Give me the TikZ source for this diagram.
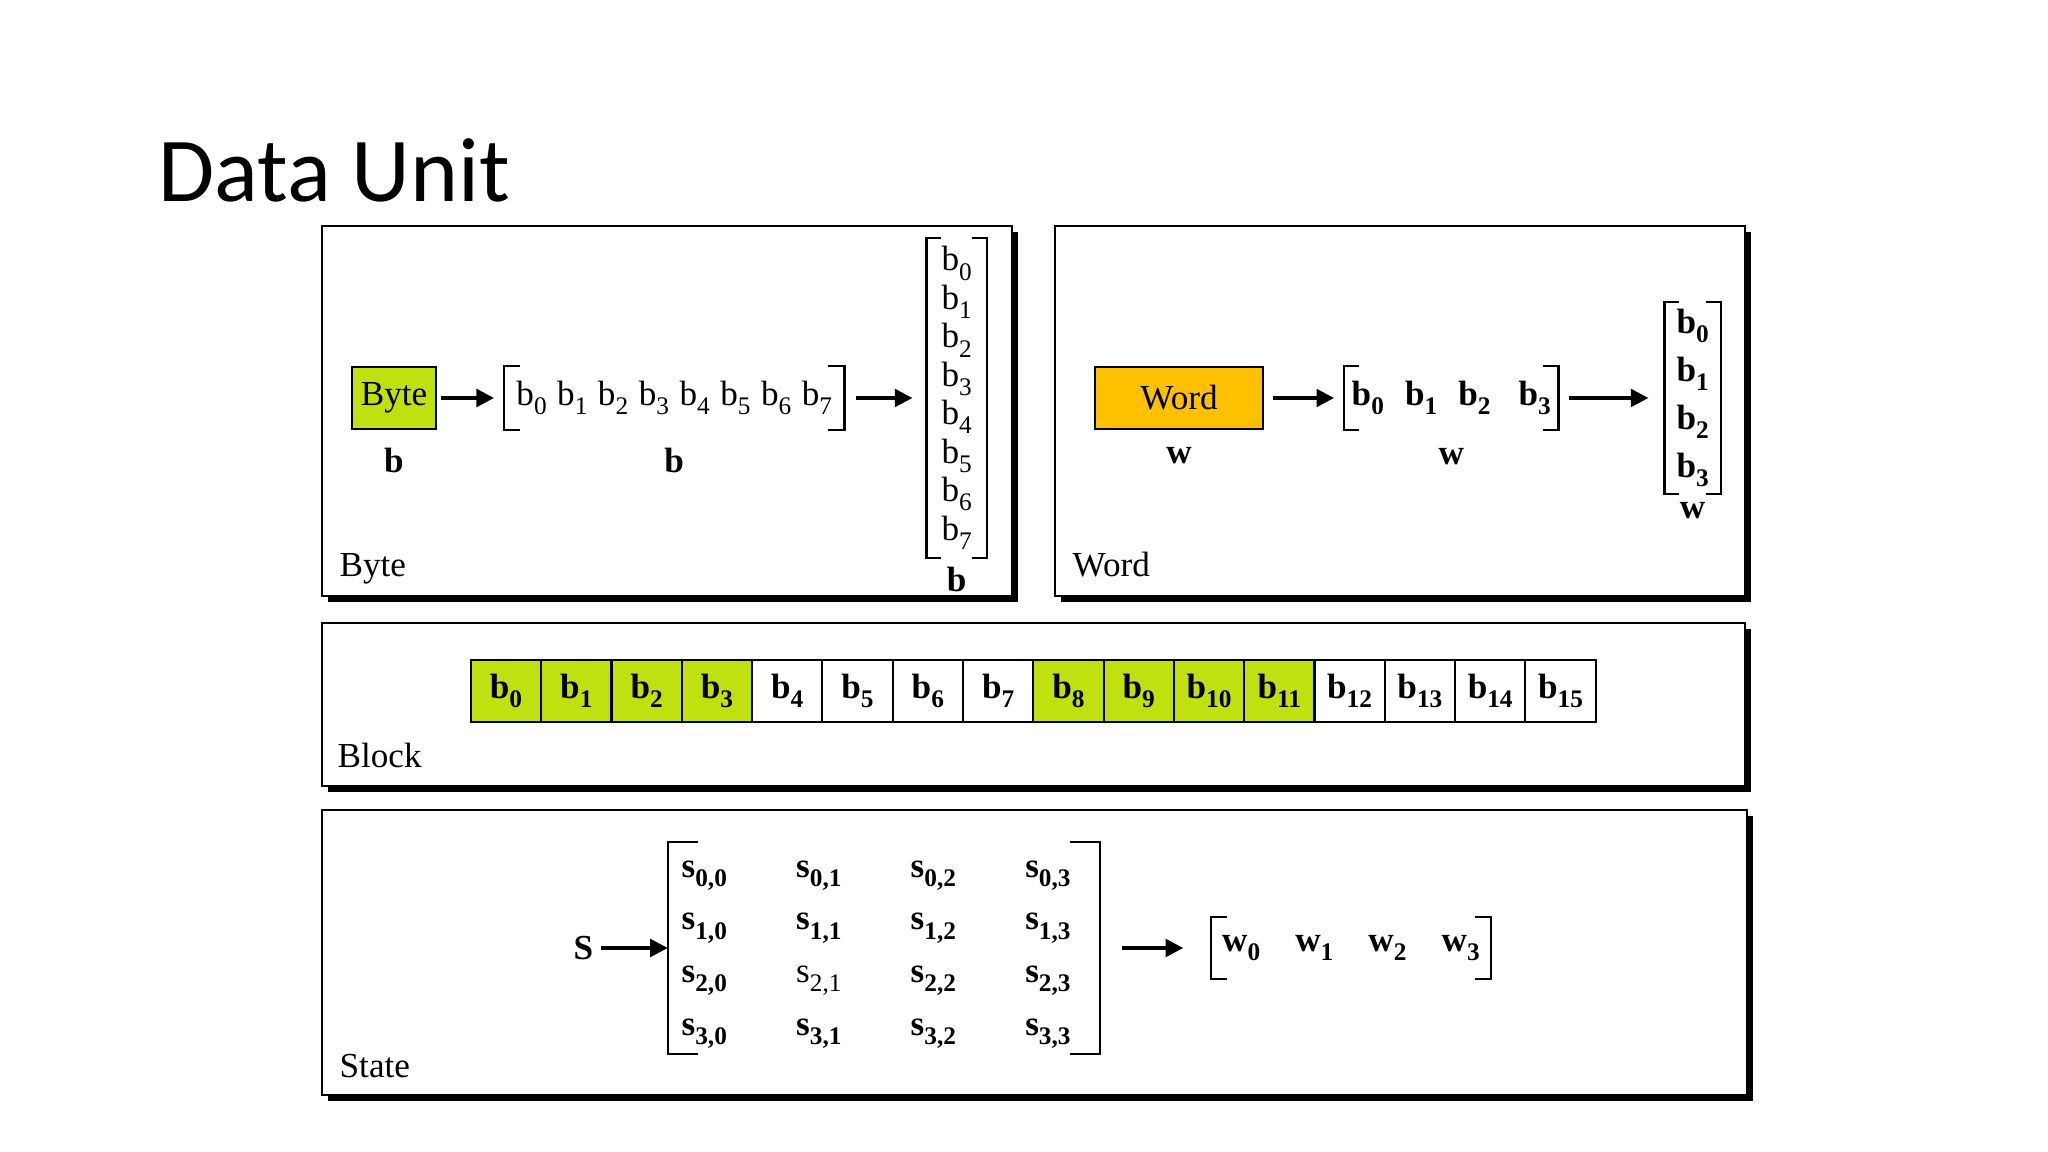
\documentclass[tikz,border=0pt]{standalone}
\usepackage{fontspec}
\setmainfont{Liberation Serif}
\newfontfamily\titlefont{Carlito}
\usetikzlibrary{positioning, arrows.meta, shadows}

\definecolor{bytegreen}{RGB}{192,224,16}
\definecolor{wordorange}{RGB}{255,192,0}

% subscripted letters, bold and regular
\newcommand{\lowsub}[1]{\raisebox{-2.6pt}{\fontsize{7.2}{8}\selectfont #1}}
\newcommand{\bsub}[2]{\textbf{#1\lowsub{#2}}}
\newcommand{\rsub}[2]{#1\lowsub{#2}}

% square brackets round a node: node name, serif length
\newcommand{\brackets}[2]{%
  \draw[brkline] ([xshift=#2]#1.north west) -- (#1.north west) -- (#1.south west) -- ([xshift=#2]#1.south west);
  \draw[brkline] ([xshift=-#2]#1.north east) -- (#1.north east) -- (#1.south east) -- ([xshift=-#2]#1.south east);
}

\begin{document}
\begin{tikzpicture}[
  x=0.1mm, y=-0.1mm,
  panel/.style={draw, fill=white, line width=0.7pt, anchor=north west, inner sep=0,
    drop shadow={shadow xshift=0.6mm, shadow yshift=-0.6mm, fill=black, opacity=1}},
  txt/.style={inner sep=0, font=\fontsize{10}{12}\selectfont},
  boldtxt/.style={inner sep=0, font=\fontsize{10}{12}\selectfont\bfseries},
  unitbox/.style={draw, line width=0.6pt, inner sep=0, minimum height=6.2mm, font=\fontsize{10}{12}\selectfont},
  cell/.style={draw, line width=0.6pt, inner sep=0, outer sep=0, minimum width=7.03mm,
    minimum height=6.2mm, font=\fontsize{10}{12}\selectfont\bfseries},
  paneltitle/.style={anchor=base west, inner sep=0, font=\fontsize{10}{12}\selectfont},
  brkline/.style={line width=0.6pt},
  arr/.style={line width=1pt, -{Triangle[length=5pt, width=5pt]}}
]
\useasboundingbox (0,0) rectangle (2048,1152);

% Title
\node[anchor=base west, inner sep=0, font=\titlefont\fontsize{26}{30}\selectfont] (title) at (158,202) {Data Unit};

% Panels
\node[panel, minimum width=69mm, minimum height=37mm] (bytepanel) at (321,225) {};
\node[panel, minimum width=69mm, minimum height=37mm] (wordpanel) at (1054,225) {};
\node[panel, minimum width=142.3mm, minimum height=16.3mm] (blockpanel) at (321,622) {};
\node[panel, minimum width=142.5mm, minimum height=28.5mm] (statepanel) at (321,809) {};

\node[paneltitle] (bytetitle) at (339,577) {Byte};
\node[paneltitle] (wordtitle) at (1072,577) {Word};
\node[paneltitle] (blocktitle) at (337,768) {Block};
\node[paneltitle] (statetitle) at (339,1077) {State};

% Byte
\node[unitbox, fill=bytegreen, minimum width=8.4mm] (bytebox) at (394,398) {Byte};
\node[txt, minimum width=33.9mm, minimum height=6.3mm, right=6.7mm of bytebox] (byterow)
  {\rsub{b}{0}\hspace{3pt}\rsub{b}{1}\hspace{3pt}\rsub{b}{2}\hspace{3pt}\rsub{b}{3}\hspace{3pt}\rsub{b}{4}\hspace{3pt}\rsub{b}{5}\hspace{3pt}\rsub{b}{6}\hspace{3pt}\rsub{b}{7}};
\node[txt, align=center, font=\fontsize{10}{10.95}\selectfont, minimum width=5.9mm, minimum height=31.9mm,
  right=8.2mm of byterow] (bytecol)
  {\rsub{b}{0}\\\rsub{b}{1}\\\rsub{b}{2}\\\rsub{b}{3}\\\rsub{b}{4}\\\rsub{b}{5}\\\rsub{b}{6}\\\rsub{b}{7}};
\brackets{byterow}{1.6mm}
\brackets{bytecol}{1.5mm}
\draw[arr, shorten <=0.4mm, shorten >=1mm] (bytebox) -- (byterow);
\draw[arr, shorten <=1.2mm, shorten >=1.4mm] (byterow) -- (bytecol);
\node[boldtxt, below=1.7mm of bytebox] (byteb1) {b};
\node[boldtxt, below=1.7mm of byterow] (byteb2) {b};
\node[boldtxt, below=0.8mm of bytecol] (byteb3) {b};

% Word
\node[unitbox, fill=wordorange, minimum width=16.8mm] (wordbox) at (1179,398) {Word};
\node[txt, minimum width=21.3mm, minimum height=6.3mm, right=8mm of wordbox] (wordrow)
  {\bsub{b}{0}\hspace{6pt}\bsub{b}{1}\hspace{6pt}\bsub{b}{2}\hspace{8pt}\bsub{b}{3}};
\node[txt, align=center, font=\fontsize{10}{13.7}\selectfont\bfseries, minimum width=5.5mm, minimum height=19.1mm,
  right=10.6mm of wordrow] (wordcol)
  {\bsub{b}{0}\\\bsub{b}{1}\\\bsub{b}{2}\\\bsub{b}{3}};
\brackets{wordrow}{1.5mm}
\brackets{wordcol}{1.5mm}
\draw[arr, shorten <=0.9mm, shorten >=1mm] (wordbox) -- (wordrow);
\draw[arr, shorten <=1.1mm, shorten >=1.6mm] (wordrow) -- (wordcol);
\node[boldtxt, below=1.7mm of wordbox] (wordw1) {w};
\node[boldtxt, below=1.7mm of wordrow] (wordw2) {w};
\node[boldtxt, below=0.7mm of wordcol] (wordw3) {w};

% Block
\foreach \i in {0,...,15}{
  \pgfmathtruncatemacro{\isgreen}{(\i<4)||((\i>7)&&(\i<12))}
  \ifnum\isgreen=1 \colorlet{cellfill}{bytegreen}\else\colorlet{cellfill}{white}\fi
  \node[cell, fill=cellfill] (blk\i) at ({506+70.3*\i},691) {\bsub{b}{\i}};
}

% State
\node[txt, minimum width=43.1mm, minimum height=21mm] (smat) at (884,948) {%
  \begin{tabular}{@{}c@{\hspace{19.7pt}}c@{\hspace{19.7pt}}c@{\hspace{19.7pt}}c@{\hspace{4.5pt}}}
  \bsub{s}{0,0} & \bsub{s}{0,1} & \bsub{s}{0,2} & \bsub{s}{0,3}\\[3pt]
  \bsub{s}{1,0} & \bsub{s}{1,1} & \bsub{s}{1,2} & \bsub{s}{1,3}\\[3pt]
  \bsub{s}{2,0} & \rsub{s}{2,1} & \bsub{s}{2,2} & \bsub{s}{2,3}\\[3pt]
  \bsub{s}{3,0} & \bsub{s}{3,1} & \bsub{s}{3,2} & \bsub{s}{3,3}
  \end{tabular}};
\node[boldtxt, left=7.4mm of smat] (sname) {S};
\node[txt, minimum width=27.8mm, minimum height=6.1mm, right=11.1mm of smat] (wrow)
  {\bsub{w}{0}\hspace{10pt}\bsub{w}{1}\hspace{10pt}\bsub{w}{2}\hspace{10pt}\bsub{w}{3}};
\brackets{smat}{3mm}
\brackets{wrow}{1.6mm}
\draw[arr, shorten <=0.7mm] (sname) -- (smat);
\draw[arr, shorten <=2.2mm, shorten >=2.8mm] (smat) -- (wrow);

\end{tikzpicture}
\end{document}
